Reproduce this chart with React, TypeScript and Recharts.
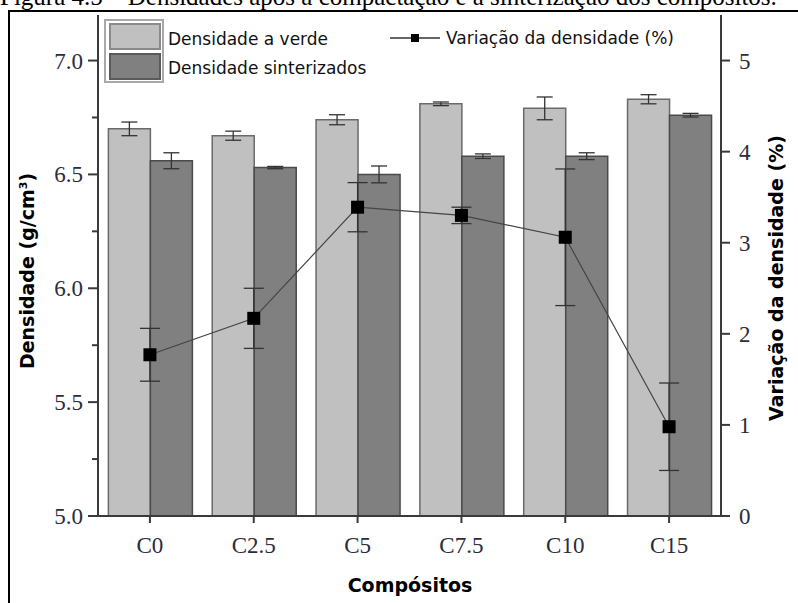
import {
  Bar,
  ComposedChart,
  ErrorBar,
  Line,
  XAxis,
  YAxis,
} from 'recharts';

const CATEGORIES = ['C0', 'C2.5', 'C5', 'C7.5', 'C10', 'C15'];
const VERDE = [6.7, 6.67, 6.74, 6.81, 6.79, 6.83];
const VERDE_ERR = [0.03, 0.02, 0.022, 0.008, 0.05, 0.02];
const SINTER = [6.56, 6.53, 6.5, 6.58, 6.58, 6.76];
const SINTER_ERR = [0.035, 0.005, 0.037, 0.01, 0.015, 0.008];
const VARIACAO = [1.77, 2.17, 3.39, 3.3, 3.06, 0.98];
const VARIACAO_ERR = [0.29, 0.33, 0.27, 0.09, 0.75, 0.48];

const LEFT_TICKS = [5, 5.25, 5.5, 5.75, 6, 6.25, 6.5, 6.75, 7];
const RIGHT_TICKS = [0, 1, 2, 3, 4, 5];

const LIGHT = '#c0c0c0';
const DARK = '#808080';
const AXIS = '#3a3a3a';
const TICK_TEXT = '#2c2c3c';
const SERIF = "'Liberation Serif', 'Times New Roman', serif";
const SANS = "'DejaVu Sans', Verdana, sans-serif";

const data = CATEGORIES.map((name, i) => ({
  name,
  verde: VERDE[i],
  verdeErr: VERDE_ERR[i],
  sinter: SINTER[i],
  sinterErr: SINTER_ERR[i],
  variacao: VARIACAO[i],
  variacaoErr: VARIACAO_ERR[i],
}));

function LeftTick({ x, y, payload }: any) {
  const v = payload.value;
  const major = Math.abs(v * 2 - Math.round(v * 2)) < 1e-6;
  return (
    <g>
      <line x1={x} x2={x - (major ? 10 : 6)} y1={y} y2={y} stroke={AXIS} strokeWidth={2} />
      {major && (
        <text x={x - 15} y={y} dy={8} textAnchor="end" fontFamily={SERIF} fontSize={23} fill={TICK_TEXT}>
          {v.toFixed(1)}
        </text>
      )}
    </g>
  );
}

function RightTick({ x, y, payload }: any) {
  return (
    <g>
      <line x1={x} x2={x + 9} y1={y} y2={y} stroke={AXIS} strokeWidth={2} />
      <text x={x + 18} y={y} dy={8} textAnchor="start" fontFamily={SERIF} fontSize={23} fill={TICK_TEXT}>
        {payload.value}
      </text>
    </g>
  );
}

function SquareDot({ cx, cy }: any) {
  return <rect x={cx - 6.5} y={cy - 6.5} width={13} height={13} fill="#000" />;
}

export default function App() {
  return (
    <div style={{ position: 'absolute', left: 0, top: 0, width: 798, height: 603, background: '#fff', overflow: 'hidden' }}>
      <div
        style={{
          position: 'absolute',
          left: 0,
          top: -16,
          fontFamily: SERIF,
          fontSize: 25,
          lineHeight: '25px',
          whiteSpace: 'nowrap',
          color: '#000',
        }}
      >
        Figura 4.5 – Densidades após a compactação e a sinterização dos compósitos.
      </div>
      <div
        style={{
          position: 'absolute',
          left: 8,
          top: 10,
          width: 800,
          height: 600,
          borderTop: '2px solid #000',
          borderLeft: '2px solid #000',
          background: '#fff',
        }}
      />
      <div style={{ position: 'absolute', left: 0, top: 0 }}>
        <ComposedChart
          width={798}
          height={603}
          data={data}
          margin={{ top: 15, right: 0, bottom: 0, left: 0 }}
          barCategoryGap="10%"
          barGap={0}
        >
          <XAxis
            xAxisId="bottom"
            dataKey="name"
            height={87}
            stroke={AXIS}
            strokeWidth={2}
            tickSize={7}
            tickMargin={14}
            tick={{ fontFamily: SERIF, fontSize: 23, fill: TICK_TEXT }}
          />
          <XAxis
            xAxisId="top"
            dataKey="name"
            orientation="top"
            height={0}
            stroke="#808080"
            strokeWidth={2}
            tick={false}
            tickLine={false}
          />
          <YAxis
            yAxisId="left"
            width={98}
            domain={[5, 7.2]}
            ticks={LEFT_TICKS}
            interval={0}
            stroke={AXIS}
            strokeWidth={2}
            tickSize={0}
            tickMargin={0}
            tickLine={false}
            tick={<LeftTick />}
          />
          <YAxis
            yAxisId="right"
            orientation="right"
            width={77}
            domain={[0, 5.5]}
            ticks={RIGHT_TICKS}
            interval={0}
            stroke={AXIS}
            strokeWidth={2}
            tickSize={0}
            tickMargin={0}
            tickLine={false}
            tick={<RightTick />}
          />
          <Bar
            xAxisId="bottom"
            yAxisId="left"
            dataKey="verde"
            fill={LIGHT}
            stroke="#6a6a6a"
            strokeWidth={1.5}
            isAnimationActive={false}
          >
            <ErrorBar dataKey="verdeErr" width={8} stroke="#333" strokeWidth={1.3} />
          </Bar>
          <Bar
            xAxisId="bottom"
            yAxisId="left"
            dataKey="sinter"
            fill={DARK}
            stroke="#4a4a4a"
            strokeWidth={1.5}
            isAnimationActive={false}
          >
            <ErrorBar dataKey="sinterErr" width={8} stroke="#333" strokeWidth={1.3} />
          </Bar>
          <Line
            xAxisId="bottom"
            yAxisId="right"
            dataKey="variacao"
            stroke="#444"
            strokeWidth={1.2}
            dot={<SquareDot />}
            activeDot={false}
            isAnimationActive={false}
          >
            <ErrorBar dataKey="variacaoErr" width={10} stroke="#333" strokeWidth={1.3} direction="y" />
          </Line>
        </ComposedChart>
      </div>

      {/* legend */}
      <div
        style={{
          position: 'absolute',
          left: 104,
          top: 19,
          width: 60,
          height: 64,
          border: '2px solid #a8a8a8',
          boxSizing: 'border-box',
        }}
      />
      <div style={{ position: 'absolute', left: 109, top: 23, width: 52, height: 27, background: LIGHT, border: '2px solid #8a8a8a', boxSizing: 'border-box' }} />
      <div style={{ position: 'absolute', left: 109, top: 53, width: 52, height: 27, background: DARK, border: '2px solid #5a5a5a', boxSizing: 'border-box' }} />
      <div style={{ position: 'absolute', left: 168, top: 28, fontFamily: SANS, fontSize: 17, lineHeight: '22px', color: '#111', whiteSpace: 'nowrap' }}>
        Densidade a verde
      </div>
      <div style={{ position: 'absolute', left: 168, top: 57, fontFamily: SANS, fontSize: 17, lineHeight: '22px', color: '#111', whiteSpace: 'nowrap' }}>
        Densidade sinterizados
      </div>
      <div style={{ position: 'absolute', left: 390, top: 37, width: 50, height: 2, background: '#666' }} />
      <div style={{ position: 'absolute', left: 411, top: 34, width: 8, height: 8, background: '#000' }} />
      <div style={{ position: 'absolute', left: 446, top: 27, fontFamily: SANS, fontSize: 17, lineHeight: '22px', color: '#111', whiteSpace: 'nowrap' }}>
        Variação da densidade (%)
      </div>

      {/* axis titles */}
      <div
        style={{
          position: 'absolute',
          left: 27,
          top: 271,
          transform: 'translate(-50%, -50%) rotate(-90deg)',
          fontFamily: SANS,
          fontWeight: 'bold',
          fontSize: 19,
          whiteSpace: 'nowrap',
          color: '#000',
        }}
      >
        Densidade (g/cm<sup style={{ fontSize: 11 }}>3</sup>)
      </div>
      <div
        style={{
          position: 'absolute',
          left: 776,
          top: 278,
          transform: 'translate(-50%, -50%) rotate(-90deg)',
          fontFamily: SANS,
          fontWeight: 'bold',
          fontSize: 19,
          whiteSpace: 'nowrap',
          color: '#000',
        }}
      >
        Variação da densidade (%)
      </div>
      <div
        style={{
          position: 'absolute',
          left: 410,
          top: 585,
          transform: 'translate(-50%, -50%)',
          fontFamily: SANS,
          fontWeight: 'bold',
          fontSize: 19,
          whiteSpace: 'nowrap',
          color: '#000',
        }}
      >
        Compósitos
      </div>
    </div>
  );
}
